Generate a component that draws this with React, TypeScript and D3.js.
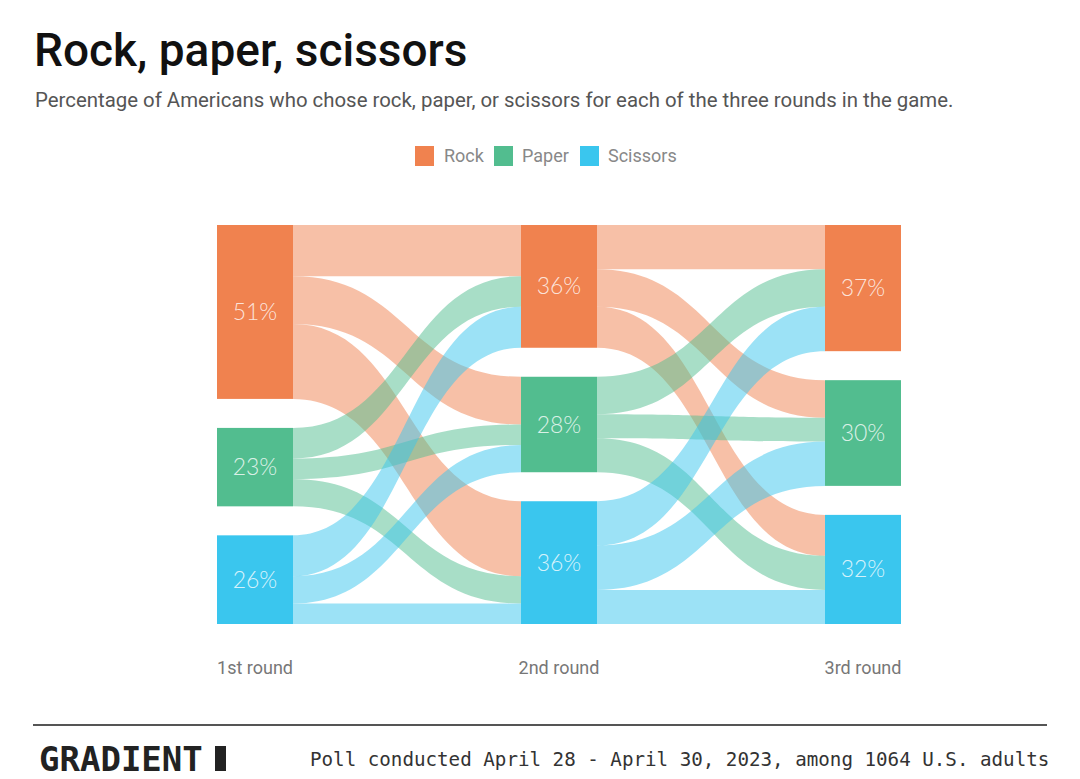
import React from "react";
import * as d3 from "d3";

const rounds = ["1st round", "2nd round", "3rd round"];
const choices = ["Rock", "Paper", "Scissors"];
const choiceColors = ["#F0824F", "#52BD8F", "#3AC6EE"];
const nodeLabels = [
  ["51%", "23%", "26%"],
  ["36%", "28%", "36%"],
  ["37%", "30%", "32%"],
];
// links[source choice][target choice], in percent
const links1to2 = [
  [15, 14, 22],
  [9, 6, 8],
  [12, 8, 6],
];
const links2to3 = [
  [13, 11, 12],
  [11, 7, 10],
  [13, 13, 10],
];
const transitions = [links1to2, links2to3];

const W = 1080;
const H = 779;
const nodeW = 76;
const gap = 29;
const top = 225;

function ribbon(xs: number, ys0: number, ys1: number, xt: number, yt0: number, yt1: number) {
  const xm = (xs + xt) / 2;
  const p = d3.path();
  p.moveTo(xs, ys0);
  p.bezierCurveTo(xm, ys0, xm, yt0, xt, yt0);
  p.lineTo(xt, yt1);
  p.bezierCurveTo(xm, yt1, xm, ys1, xs, ys1);
  p.closePath();
  return p.toString();
}

export default function App() {
  const colValues: number[][] = [];
  colValues.push(links1to2.map((r) => d3.sum(r)));
  colValues.push(choices.map((_, j) => d3.sum(links1to2, (r) => r[j])));
  colValues.push(choices.map((_, j) => d3.sum(links2to3, (r) => r[j])));

  const x = d3.scalePoint<string>().domain(rounds).range([217, 825]);
  const h = d3.scaleLinear().domain([0, 100]).range([0, 341]);

  const nodes = colValues.map((vals, c) => {
    let y = top;
    return vals.map((v, i) => {
      const n = { c, i, x0: x(rounds[c])!, y0: y, y1: y + h(v), v };
      y = n.y1 + gap;
      return n;
    });
  });

  const linkEls: any[] = [];
  transitions.forEach((mat, c) => {
    const srcOff = nodes[c].map((n) => n.y0);
    const tgtOff = nodes[c + 1].map((n) => n.y0);
    const items: any[] = [];
    mat.forEach((row, i) => {
      row.forEach((v, j) => {
        const w = h(v);
        items.push({ i, j, v, w, ys: srcOff[i] });
        srcOff[i] += w;
      });
    });
    for (let j = 0; j < 3; j++) {
      for (let i = 0; i < 3; i++) {
        const it = items.find((d) => d.i === i && d.j === j);
        it.yt = tgtOff[j];
        tgtOff[j] += it.w;
      }
    }
    items.forEach((it) => {
      const xs = nodes[c][it.i].x0 + nodeW;
      const xt = nodes[c + 1][it.j].x0;
      linkEls.push(
        <path
          key={`l${c}-${it.i}-${it.j}`}
          d={ribbon(xs, it.ys, it.ys + it.w, xt, it.yt, it.yt + it.w)}
          fill={choiceColors[it.i]}
          fillOpacity={0.5}
          stroke="none"
        />
      );
    });
  });

  const legendItems = [
    { x: 415, tx: 444 },
    { x: 494, tx: 522 },
    { x: 580, tx: 608 },
  ];

  return (
    <div style={{ position: "absolute", left: 0, top: 0 }}>
      <svg width={W} height={H} style={{ display: "block", background: "#fff" }}>
        <text x={34} y={66} fontFamily="Roboto" fontWeight={500} fontSize={46} fill="#111">
          Rock, paper, scissors
        </text>
        <text x={35} y={107} fontFamily="Roboto" fontSize={20.4} fill="#555">
          Percentage of Americans who chose rock, paper, or scissors for each of the three rounds in the game.
        </text>

        {choices.map((c, i) => (
          <g key={c}>
            <rect x={legendItems[i].x} y={146} width={19} height={20} fill={choiceColors[i]} />
            <text x={legendItems[i].tx} y={162} fontFamily="Roboto" fontSize={18} fill="#888">
              {c}
            </text>
          </g>
        ))}

        <g>{linkEls}</g>

        {nodes.map((col, c) =>
          col.map((n) => (
            <g key={`n${c}-${n.i}`}>
              <rect x={n.x0} y={n.y0} width={nodeW} height={n.y1 - n.y0} fill={choiceColors[n.i]} />
              <text
                x={n.x0 + nodeW / 2}
                y={(n.y0 + n.y1) / 2}
                dy="0.35em"
                textAnchor="middle"
                fontFamily="Lato"
                fontWeight={300}
                fontSize={23}
                fill="#fff"
                fillOpacity={0.8}
              >
                {nodeLabels[c][n.i]}
              </text>
            </g>
          ))
        )}

        {rounds.map((r) => (
          <text
            key={r}
            x={x(r)! + nodeW / 2}
            y={674}
            textAnchor="middle"
            fontFamily="Roboto"
            fontSize={18}
            fill="#777"
          >
            {r}
          </text>
        ))}

        <line x1={33} x2={1047} y1={725} y2={725} stroke="#555" strokeWidth={2} />
        <text x={39} y={771} fontFamily="DejaVu Sans Mono" fontWeight={700} fontSize={34} fill="#222">
          GRADIENT
        </text>
        <rect x={215} y={746} width={11} height={25} fill="#222" />
        <text x={310} y={766} fontFamily="DejaVu Sans Mono" fontSize={19.2} fill="#333">
          Poll conducted April 28 - April 30, 2023, among 1064 U.S. adults
        </text>
      </svg>
    </div>
  );
}
